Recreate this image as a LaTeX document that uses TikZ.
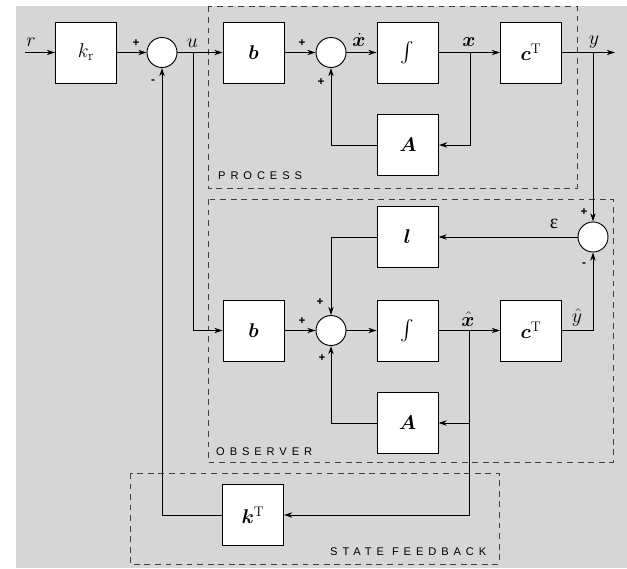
\RequirePackage{fix-cm}
\documentclass[tikz,border=0pt]{standalone}
\usepackage{amsmath}
\usepackage{fontspec}
\usepackage{bm}
\usetikzlibrary{arrows.meta,positioning,calc}
\newfontfamily\capsfont[LetterSpace=44]{Liberation Sans}
\newfontfamily\signfont{Liberation Sans}
\newfontfamily\greekfont{Liberation Serif}
\definecolor{PanelGray}{RGB}{214,214,214}

\begin{document}
\begin{tikzpicture}[x=0.03cm,y=-0.03cm,font=\fontsize{17}{20}\selectfont,
    blk/.style={draw, fill=white, line width=0.8pt, minimum width=1.83cm, minimum height=1.83cm, inner sep=0pt},
    sum/.style={draw, fill=white, circle, line width=0.8pt, minimum size=0.9cm, inner sep=0pt},
    sig/.style={line width=0.8pt, -{Stealth[length=7pt,width=4.5pt]}},
    zone/.style={draw=black!75, dash pattern=on 5pt off 4pt, line width=0.7pt},
    sgn/.style={font=\fontsize{10}{10}\signfont\bfseries, inner sep=0pt},
    lbl/.style={anchor=base, inner sep=0pt},
    zonelabel/.style={font=\fontsize{9.5}{11}\capsfont, anchor=base west, inner sep=0pt}]
        \def\rowa{52.5}
        \def\rowo{330.5}

        \useasboundingbox (0,0) rectangle (627,568);
        \fill[PanelGray] (16,6) rectangle (627,568);

        \draw[zone] (208,6.5) rectangle (577,188);
        \draw[zone] (208,199) rectangle (613,462);
        \draw[zone] (130,473) rectangle (499,564);
        \node[zonelabel] (zp) at (218,179.5) {PROCESS};
        \node[zonelabel] (zo) at (216,455) {OBSERVER};
        \node[zonelabel] (zf) at (330,555) {STATE FEEDBACK};

        \node[blk] (kr) at (86,\rowa) {$k_{\mathrm{r}}$};
        \node[sum] (s1) at (162,\rowa) {};
        \node[blk] (bp) at (253.5,\rowa) {$\bm{b}$};
        \node[sum] (s2) at (331,\rowa) {};
        \node[blk] (ip) at (407.5,\rowa) {$\int$};
        \node[blk] (cp) at (531,\rowa) {$\bm{c}^{\mathrm{T}}$};
        \node[blk] (Ap) at (408,145) {$\bm{A}$};

        \node[blk] (lo) at (407.5,237) {$\bm{l}$};
        \node[sum] (s4) at (593,237) {};
        \node[blk] (bo) at (253.5,\rowo) {$\bm{b}$};
        \node[sum] (s3) at (331,\rowo) {};
        \node[blk] (io) at (407.5,\rowo) {$\int$};
        \node[blk] (co) at (531,\rowo) {$\bm{c}^{\mathrm{T}}$};
        \node[blk] (Ao) at (407.5,423) {$\bm{A}$};
        \node[blk] (kt) at (253,515) {$\bm{k}^{\mathrm{T}}$};

        \coordinate (rin) at (25,\rowa);
        \coordinate (yout) at (615,\rowa);
        \coordinate (ub) at (193,\rowa);
        \coordinate (xb) at (470,\rowa);
        \coordinate (yb) at (593,\rowa);
        \coordinate (xhb) at (469,\rowo);

        \draw[sig] (rin) -- (kr);
        \draw[sig] (kr) -- (s1);
        \draw[sig] (s1) -- (bp);
        \draw[sig] (bp) -- (s2);
        \draw[sig] (s2) -- (ip);
        \draw[sig] (ip) -- (cp);
        \draw[sig] (cp) -- (yout);
        \draw[sig] (xb) |- (Ap);
        \draw[sig] (Ap) -| (s2);
        \draw[sig] (yb) -- (s4);
        \draw[sig] (s4) -- (lo);
        \draw[sig] (lo) -| (s3);
        \draw[sig] (ub) |- (bo);
        \draw[sig] (bo) -- (s3);
        \draw[sig] (s3) -- (io);
        \draw[sig] (io) -- (co);
        \draw[sig] (co) -| (s4);
        \draw[sig] (xhb) |- (Ao);
        \draw[sig] (xhb) |- (kt);
        \draw[sig] (Ao) -| (s3);
        \draw[sig] (kt) -| (s1);

        \node[lbl] (lr) at (31,47) {$r$};
        \node[lbl] (lu) at (192.5,47.5) {$u$};
        \node[lbl] (lxd) at (359,47) {$\dot{\bm{x}}$};
        \node[lbl] (lx) at (469,47) {$\bm{x}$};
        \node[lbl] (ly) at (594,45) {$y$};
        \node[lbl] (le) at (554,228) {\greekfont ε};
        \node[lbl] (lxh) at (468,326) {$\hat{\bm{x}}$};
        \node[lbl] (lyh) at (577,322) {$\hat{y}$};

        \foreach \x/\y/\s [count=\i] in {136/43/+,153/82/-,302/43/+,321/82/+,
          320/302/+,302/321/+,322/358/+,584/212/+,584/265/-} {
          \node[sgn] (sg\i) at (\x,\y) {\s};
        }

      \end{tikzpicture}
\end{document}
